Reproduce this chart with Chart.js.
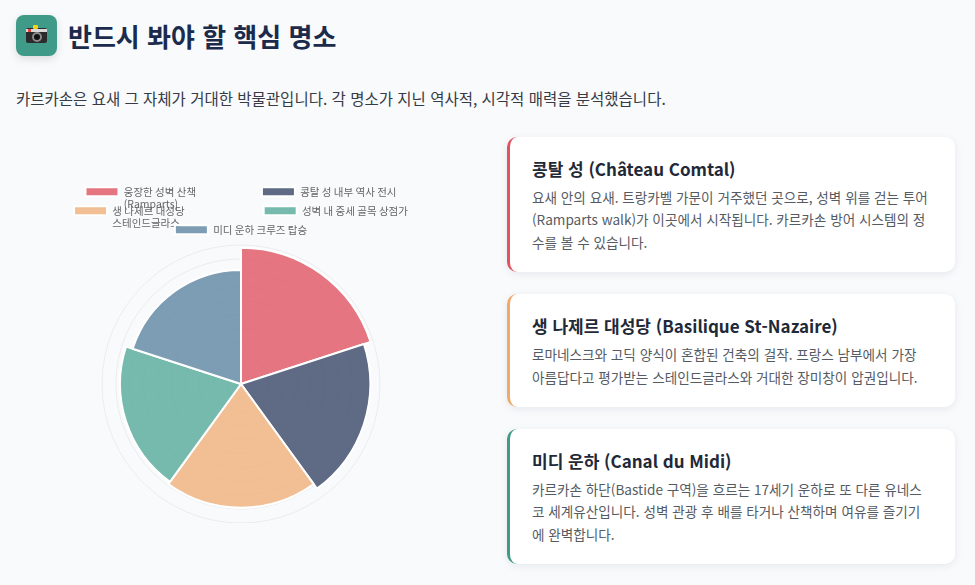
<!DOCTYPE html>
<html lang="ko">
<head>
<meta charset="utf-8">
<title>반드시 봐야 할 핵심 명소</title>
<script src="https://cdn.jsdelivr.net/npm/chart.js@4.4.1/dist/chart.umd.min.js"></script>
<style>
  * { box-sizing: border-box; }
  html, body { margin: 0; padding: 0; }
  body {
    width: 975px; height: 585px; overflow: hidden;
    background: #f8fafc;
    font-family: "Noto Sans CJK KR", "Noto Sans", sans-serif;
    padding: 15px 16px 0 16px;
  }
  .head { display: flex; align-items: center; height: 41px; }
  .icon {
    width: 41px; height: 41px; border-radius: 8px;
    background: #3f9a87; position: relative;
    box-shadow: 0 3px 8px rgba(0,0,0,0.12);
  }
  .cam { position: absolute; left: 10px; top: 13px; width: 21px; height: 15px;
    background: #2b2b2b; border-radius: 2px; }
  .cam .strip { position: absolute; left: 0; top: 1px; width: 21px; height: 3px; background: #d9d9d9; }
  .cam .red { position: absolute; left: 2px; top: 1px; width: 3px; height: 3px; background: #e0463c; }
  .cam .flash { position: absolute; left: 7px; top: -3px; width: 5px; height: 4px; background: #f7d117; border-radius: 1px; }
  .cam .lens { position: absolute; left: 6px; top: 4px; width: 10px; height: 10px; border-radius: 50%;
    border: 2px solid #8a8a8a; background: #111; }
  h1 { margin: 0 0 0 11px; font-size: 26px; font-weight: 700; color: #1c2b4b; line-height: 41px; }
  .sub { margin: 29px 0 0 0; font-size: 15.5px; color: #363b44; line-height: 26px; }
  .grid { display: grid; grid-template-columns: 450px 448px; column-gap: 41px; align-items: center; margin-top: 26px; }
  .chart-box { position: relative; width: 450px; height: 345px; }
  .cards { display: flex; flex-direction: column; gap: 22px; }
  .card {
    background: #fff; border-radius: 10px; border-left: 3px solid #e05462;
    padding: 20px 24px 19px 22px;
    box-shadow: 0 2px 8px rgba(15,23,42,0.08);
  }
  .card h3 { margin: 0 0 5px 0; font-size: 17px; font-weight: 700; color: #1f2937; line-height: 24px; }
  .card p { margin: 0; font-size: 13.6px; color: #555b63; line-height: 22.4px; }
  .c2 { border-left-color: #f0a96a; }
  .c3 { border-left-color: #3f9a87; }
</style>
</head>
<body>
<div class="head">
  <div class="icon"><div class="cam"><div class="strip"></div><div class="red"></div><div class="flash"></div><div class="lens"></div></div></div>
  <h1>반드시 봐야 할 핵심 명소</h1>
</div>
<p class="sub">카르카손은 요새 그 자체가 거대한 박물관입니다. 각 명소가 지닌 역사적, 시각적 매력을 분석했습니다.</p>
<div class="grid">
  <div class="chart-box"><canvas id="sightsChart"></canvas></div>
  <div class="cards">
    <div class="card">
      <h3>콩탈 성 (Château Comtal)</h3>
      <p>요새 안의 요새. 트랑카벨 가문이 거주했던 곳으로, 성벽 위를 걷는 투어(Ramparts walk)가 이곳에서 시작됩니다. 카르카손 방어 시스템의 정수를 볼 수 있습니다.</p>
    </div>
    <div class="card c2">
      <h3>생 나제르 대성당 (Basilique St-Nazaire)</h3>
      <p>로마네스크와 고딕 양식이 혼합된 건축의 걸작. 프랑스 남부에서 가장 아름답다고 평가받는 스테인드글라스와 거대한 장미창이 압권입니다.</p>
    </div>
    <div class="card c3">
      <h3>미디 운하 (Canal du Midi)</h3>
      <p>카르카손 하단(Bastide 구역)을 흐르는 17세기 운하로 또 다른 유네스코 세계유산입니다. 성벽 관광 후 배를 타거나 산책하며 여유를 즐기기에 완벽합니다.</p>
    </div>
  </div>
</div>
<script>
// 명소별 매력 점수
const placeLabels = [
  ['웅장한 성벽 산책', '(Ramparts)'],
  '콩탈 성 내부 역사 전시',
  ['생 나제르 대성당', '스테인드글라스'],
  '성벽 내 중세 골목 상점가',
  '미디 운하 크루즈 탑승'
];
const appealScores = [9.8, 9.3, 8.9, 8.7, 8.2];
const sliceColors = [
  'rgba(224, 84, 96, 0.8)',
  'rgba(56, 71, 103, 0.8)',
  'rgba(239, 176, 120, 0.8)',
  'rgba(85, 169, 152, 0.8)',
  'rgba(94, 134, 163, 0.8)'
];

Chart.defaults.font.family = '"Noto Sans CJK KR", "Noto Sans", sans-serif';
Chart.defaults.color = '#666';

const sightsChart = new Chart(document.getElementById('sightsChart'), {
  type: 'polarArea',
  data: {
    labels: placeLabels,
    datasets: [{
      label: '매력 점수',
      data: appealScores,
      backgroundColor: sliceColors,
      borderColor: '#ffffff',
      borderWidth: 2
    }]
  },
  options: {
    responsive: true,
    maintainAspectRatio: false,
    animation: false,
    plugins: {
      legend: {
        position: 'top',
        labels: { boxWidth: 33, boxHeight: 9, padding: 8.5, font: { size: 10.5 } }
      },
      tooltip: { enabled: true }
    },
    scales: {
      r: {
        min: 0,
        max: 10,
        ticks: { display: false, stepSize: 1 },
        grid: { color: 'rgba(0, 0, 0, 0.06)' }
      }
    }
  }
});
</script>
</body>
</html>
